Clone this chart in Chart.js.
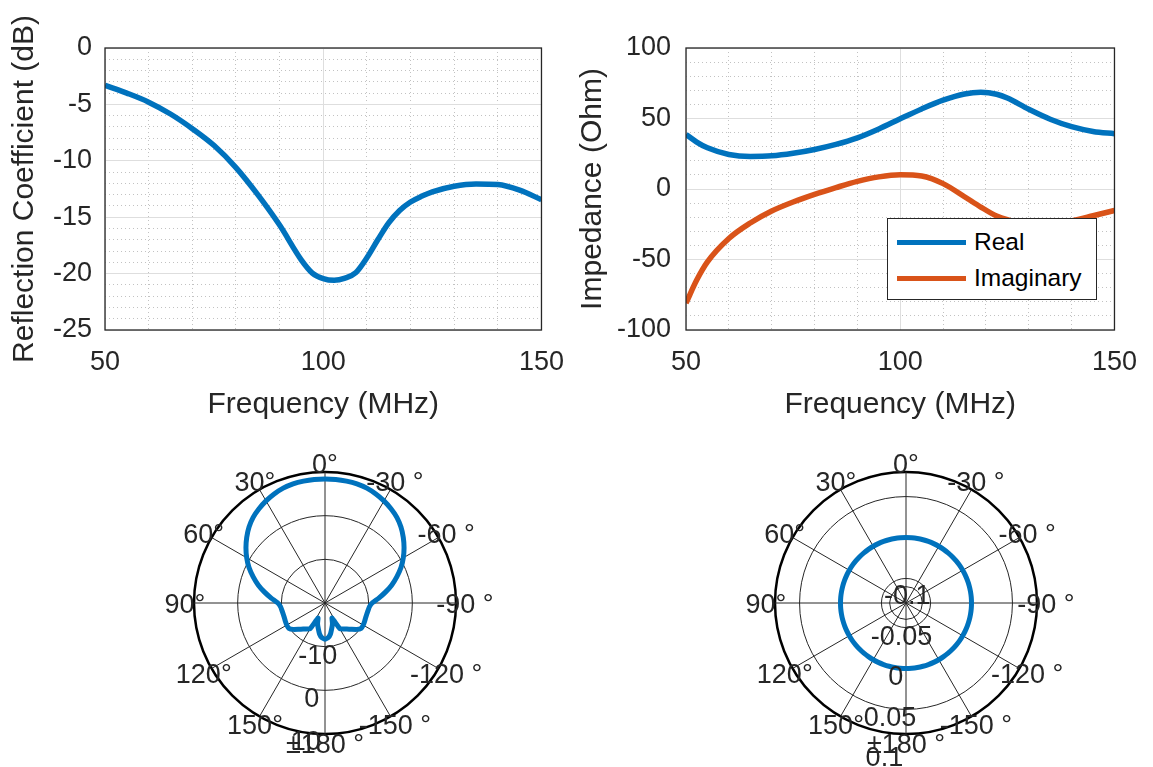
<!DOCTYPE html>
<html>
<head>
<meta charset="utf-8">
<script src="https://cdn.jsdelivr.net/npm/chart.js@4.4.1/dist/chart.umd.min.js"></script>
<style>
  html, body { margin: 0; padding: 0; background: #fff; }
  body { width: 1153px; height: 767px; position: relative; overflow: hidden; font-family: 'Liberation Sans', Arial, sans-serif; }
  canvas { position: absolute; }
  #legend { position: absolute; left: 887px; top: 218px; width: 208px; height: 80px; border: 1px solid #262626; background: #fff; }
  #legend .item { position: absolute; left: 9px; height: 36px; display: flex; align-items: center; }
  #legend .swatch { width: 69px; height: 5px; margin-right: 8px; }
  #legend .lab { font-size: 24.5px; color: #000; white-space: nowrap; }
</style>
</head>
<body>
<canvas id="s11" width="580" height="440" style="left:0;top:0"></canvas>
<canvas id="imp" width="578" height="440" style="left:575px;top:0"></canvas>
<canvas id="pol1" width="340" height="327" style="left:155px;top:440px"></canvas>
<canvas id="pol2" width="340" height="327" style="left:736px;top:440px"></canvas>
<div id="legend"></div>
<script>
const BLUE = '#0072BD';
const ORANGE = '#D95319';
const TXT = '#262626';
const FONT = "'Liberation Sans', Arial, Helvetica, sans-serif";
const MAJOR = '#dedede';
const MINOR = '#c2c2c2';

// reflection coefficient vs frequency
const freqS11 = [50, 55, 60, 65, 70, 75, 80, 85, 90, 95, 97.5, 100, 102.5, 105, 107.5, 110, 112.5, 115, 117.5, 120, 122.5, 125, 130, 135, 140, 145, 150];
const s11Db = [-3.3, -4.0, -4.8, -5.85, -7.15, -8.65, -10.6, -13.0, -15.7, -18.8, -19.95, -20.45, -20.6, -20.4, -19.9, -18.6, -17.0, -15.5, -14.4, -13.65, -13.15, -12.75, -12.25, -12.05, -12.1, -12.6, -13.45];

// input impedance vs frequency
const freqZ = [50, 52.5, 55, 60, 65, 70, 75, 80, 85, 90, 95, 100, 105, 110, 115, 118.8, 122.5, 125, 130, 135, 140, 145, 150];
const zReal = [38.7, 33.3, 29.2, 24.5, 23.1, 23.5, 25.3, 28.0, 31.6, 36.3, 42.6, 49.8, 56.8, 63.0, 67.4, 68.6, 67.2, 64.5, 56.5, 49.5, 44.2, 40.8, 39.2];
const zImag = [-81, -64.6, -51.7, -35.1, -24.1, -15.6, -9.2, -3.8, 1.0, 5.4, 8.6, 10.1, 9.2, 3.8, -5.5, -12.8, -19.2, -21.8, -25.0, -25.0, -22.6, -19.0, -15.2];

// cartesian ticks: grid on every value, text only on the label lists
const freqGrid = [50, 60, 70, 80, 90, 100, 110, 120, 130, 140, 150];
const freqLabels = [50, 100, 150];
const dbGrid = [-25, -24, -23, -22, -21, -20, -19, -18, -17, -16, -15, -14, -13, -12, -11, -10, -9, -8, -7, -6, -5, -4, -3, -2, -1, 0];
const dbLabels = [-25, -20, -15, -10, -5, 0];
const ohmGrid = [-100, -90, -80, -70, -60, -50, -40, -30, -20, -10, 0, 10, 20, 30, 40, 50, 60, 70, 80, 90, 100];
const ohmLabels = [-100, -50, 0, 50, 100];

// radiation patterns, theta counter-clockwise from the top
const thetaDeg = [0, 5, 10, 15, 20, 25, 30, 35, 40, 45, 50, 55, 60, 65, 70, 75, 80, 85,
  90, 95, 100, 105, 110, 115, 120, 125, 130, 135, 140, 145, 150, 155, 160, 165, 170, 175,
  180, 185, 190, 195, 200, 205, 210, 215, 220, 225, 230, 235, 240, 245, 250, 255, 260, 265,
  270, 275, 280, 285, 290, 295, 300, 305, 310, 315, 320, 325, 330, 335, 340, 345, 350, 355];
const leftGain = [8.4, 8.4, 8.35, 8.25, 8.0, 7.55, 7.0, 6.35, 5.6, 4.6, 3.4, 2.1, 0.7, -0.8, -2.5, -4.2, -6.0, -7.7,
  -9.2, -9.8, -10.0, -10.1, -10.1, -10.0, -9.9, -9.9, -10.6, -11.5, -12.2, -12.7, -13.2, -16.2, -15.0, -14.0, -12.8, -12.0,
  -11.7, -12.0, -12.8, -14.0, -15.0, -16.2, -13.2, -12.7, -12.2, -11.5, -10.6, -9.9, -9.9, -10.0, -10.1, -10.1, -10.0, -9.8,
  -9.2, -7.7, -6.0, -4.2, -2.5, -0.8, 0.7, 2.1, 3.4, 4.6, 5.6, 6.35, 7.0, 7.55, 8.0, 8.25, 8.35, 8.4];
const rightGain = [0, 0, 0, 0, 0, 0, 0, 0, 0, 0, 0, 0, 0, 0, 0, 0, 0, 0,
  0, 0, 0, 0, 0, 0, 0, 0, 0, 0, 0, 0, 0, 0, 0, 0, 0, 0,
  0, 0, 0, 0, 0, 0, 0, 0, 0, 0, 0, 0, 0, 0, 0, 0, 0, 0,
  0, 0, 0, 0, 0, 0, 0, 0, 0, 0, 0, 0, 0, 0, 0, 0, 0, 0];
const angleTicks = [0, 30, 60, 90, 120, 150, 180, 210, 240, 270, 300, 330];
const angleTickText = ['0°', '30°', '60°', '90°', '120°', '150°', '±180 °', '-150 °', '-120 °', '-90 °', '-60 °', '-30 °'];
const leftRLim = [-20, 10];
const leftRTicks = [-10, 0, 10];
const leftRText = ['-10', '0', '10'];
const rightRLim = [-0.08, 0.08];
const rightRTicks = [-0.1, -0.05, 0, 0.05, 0.1];
const rightRText = ['-0.1', '-0.05', '0', '0.05', '0.1'];

const boxPlugin = {
  id: 'box',
  afterDraw(chart) {
    const { ctx, chartArea: a } = chart;
    ctx.save();
    ctx.strokeStyle = TXT;
    ctx.lineWidth = 1.3;
    ctx.strokeRect(a.left, a.top, a.right - a.left, a.bottom - a.top);
    ctx.restore();
  }
};

function axis(grid, labels, min, max, title, extra) {
  return Object.assign({
    type: 'linear', min: min, max: max,
    afterBuildTicks: s => { s.ticks = grid.map(v => ({ value: v })); },
    ticks: {
      autoSkip: false, maxRotation: 0, color: TXT,
      font: { family: FONT, size: 27 },
      callback: v => labels.includes(v) ? String(v) : ''
    },
    grid: { drawTicks: false, lineWidth: 1, color: c => (c.tick && labels.includes(c.tick.value)) ? MAJOR : MINOR },
    border: { display: false, dash: c => (c.tick && !labels.includes(c.tick.value)) ? [1, 3] : [] },
    title: { display: true, text: title, color: TXT, font: { family: FONT, size: 30 } }
  }, extra);
}

function lineSet(label, xs, ys, color) {
  return {
    label: label,
    data: xs.map((f, i) => ({ x: f, y: ys[i] })),
    borderColor: color, backgroundColor: color,
    borderWidth: 5.5, pointRadius: 0, fill: false,
    cubicInterpolationMode: 'monotone', tension: 0.4
  };
}

function lineChart(id, datasets, yGrid, yLabels, yMin, yMax, yTitle, opt) {
  return new Chart(document.getElementById(id), {
    type: 'line',
    data: { datasets: datasets },
    options: {
      responsive: false, animation: false, events: [],
      layout: { padding: { top: 48, right: opt.right, left: 0, bottom: 0 } },
      plugins: { legend: { display: false }, tooltip: { enabled: false } },
      scales: {
        x: axis(freqGrid, freqLabels, 50, 150, 'Frequency (MHz)', { afterFit: s => { s.height = 110; } }),
        y: axis(yGrid, yLabels, yMin, yMax, yTitle, { afterFit: s => { s.width = opt.yWidth; } })
      }
    },
    plugins: [boxPlugin, {
      id: 'pads',
      beforeInit(chart) {
        chart.options.scales.x.ticks.padding = 16;
        chart.options.scales.x.title.padding = { top: 0, bottom: 17 };
        chart.options.scales.y.ticks.padding = opt.tickPad;
        chart.options.scales.y.title.padding = { top: opt.titlePad, bottom: 0 };
      }
    }]
  });
}

lineChart('s11', [
  lineSet('S11', freqS11, s11Db, BLUE)
], dbGrid, dbLabels, -25, 0, 'Reflection Coefficient (dB)', { right: 35, yWidth: 105, tickPad: 13, titlePad: 7 });

const impChart = lineChart('imp', [
  lineSet('Real', freqZ, zReal, BLUE),
  lineSet('Imaginary', freqZ, zImag, ORANGE)
], ohmGrid, ohmLabels, -100, 100, 'Impedance (Ohm)', { right: 27, yWidth: 111, tickPad: 15, titlePad: 0 });

// legend box sits over the plot area like the original
const legendBox = document.getElementById('legend');
impChart.data.datasets.forEach((ds, k) => {
  const row = document.createElement('div');
  row.className = 'item';
  row.style.top = (5 + k * 36) + 'px';
  row.innerHTML = '<span class="swatch" style="background:' + ds.borderColor + '"></span><span class="lab">' + ds.label + '</span>';
  legendBox.appendChild(row);
});

function polarText(rTicks, rText) {
  return {
    id: 'polarText',
    beforeDatasetsDraw(chart) {
      // ticks under the lower r limit fall on the other side of the centre
      const s = chart.scales.r, ctx = chart.ctx;
      ctx.save();
      ctx.strokeStyle = TXT;
      ctx.lineWidth = 1;
      rTicks.forEach(v => {
        const d = s.getDistanceFromCenterForValue(v);
        if (d < 0) { ctx.beginPath(); ctx.arc(s.xCenter, s.yCenter, -d, 0, 2 * Math.PI); ctx.stroke(); }
      });
      ctx.restore();
    },
    afterDraw(chart) {
      const s = chart.scales.r, ctx = chart.ctx;
      ctx.save();
      ctx.fillStyle = TXT;
      ctx.font = '27px ' + FONT;
      ctx.textAlign = 'center';
      ctx.textBaseline = 'alphabetic';
      const dy = 9.5;
      angleTicks.forEach((t, k) => {
        const p = s.getPointPosition(chart.data.labels.indexOf(t), s.drawingArea + 9);
        ctx.fillText(angleTickText[k], p.x, p.y + dy);
      });
      const a = 172 * Math.PI / 180;
      rTicks.forEach((v, k) => {
        const d = s.getDistanceFromCenterForValue(v) + 8;
        ctx.fillText(rText[k], s.xCenter - d * Math.sin(a), s.yCenter - d * Math.cos(a) + dy);
      });
      ctx.restore();
    }
  };
}

function polarChart(id, gain, rlim, rTicks, rText) {
  const n = thetaDeg.length;
  // radar runs clockwise, the plot counter-clockwise
  const order = thetaDeg.map((_, i) => (n - i) % n);
  return new Chart(document.getElementById(id), {
    type: 'radar',
    data: {
      labels: order.map(j => thetaDeg[j]),
      datasets: [{
        data: order.map(j => gain[j]),
        borderColor: BLUE, borderWidth: 5, backgroundColor: 'transparent', fill: false,
        pointRadius: 0, pointHoverRadius: 0, tension: 0.1, borderJoinStyle: 'round'
      }]
    },
    options: {
      responsive: false, animation: false, events: [],
      layout: { padding: { left: 39, right: 39, top: 32, bottom: 33 } },
      plugins: { legend: { display: false }, tooltip: { enabled: false } },
      scales: {
        r: {
          min: rlim[0], max: rlim[1],
          afterBuildTicks: s => {
            s.ticks = [rlim[0]].concat(rTicks.filter(v => v > rlim[0] && v < rlim[1]), [rlim[1]]).map(v => ({ value: v }));
          },
          ticks: { display: false },
          pointLabels: { display: false },
          grid: {
            circular: true,
            color: c => (c.tick && c.tick.value === rlim[1]) ? '#000' : TXT,
            lineWidth: c => (!c.tick || c.index === 0) ? 0 : (c.tick.value === rlim[1] ? 2.5 : 1)
          },
          angleLines: { color: TXT, lineWidth: c => (c.index % 6 === 0 ? 1 : 0) }
        }
      }
    },
    plugins: [polarText(rTicks, rText)]
  });
}

polarChart('pol1', leftGain, leftRLim, leftRTicks, leftRText);
polarChart('pol2', rightGain, rightRLim, rightRTicks, rightRText);
</script>
</body>
</html>
